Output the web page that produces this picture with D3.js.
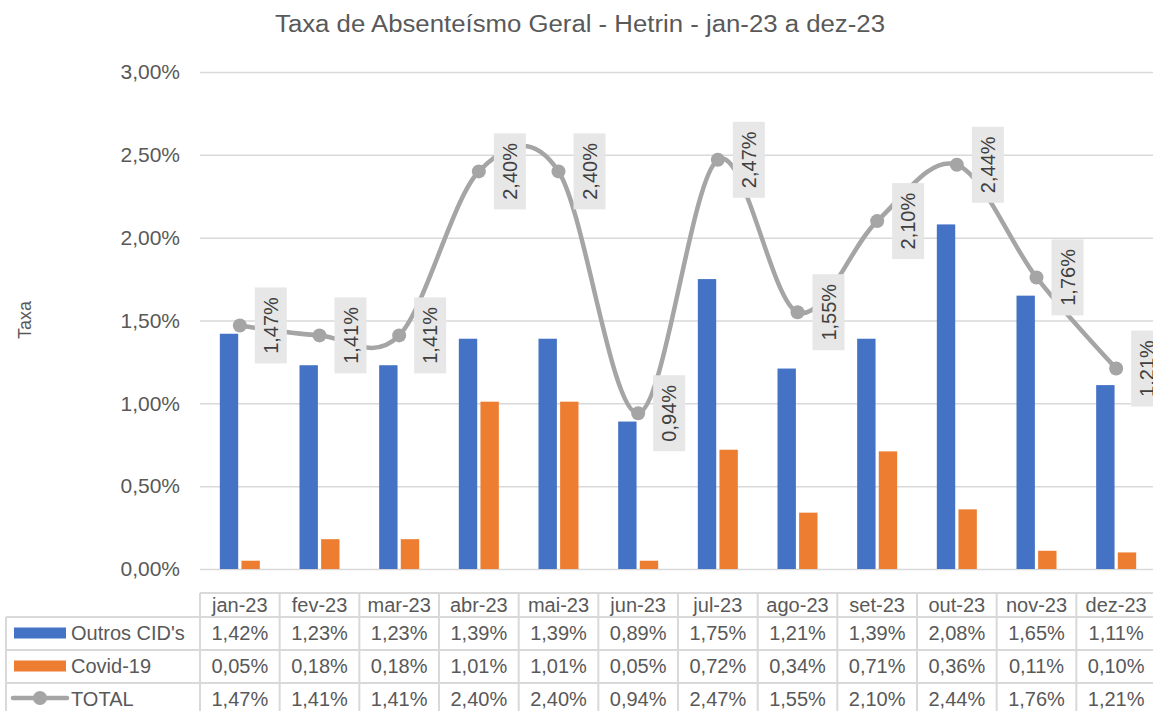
<!DOCTYPE html>
<html><head><meta charset="utf-8">
<script src="https://cdn.jsdelivr.net/npm/d3@7"></script>
<style>
body{margin:0;background:#fff;}
svg{display:block;font-family:"Liberation Sans",Arial,sans-serif;}
</style></head><body>
<svg id="c" width="1153" height="711"></svg>
<script>
const months = ["jan-23","fev-23","mar-23","abr-23","mai-23","jun-23","jul-23","ago-23","set-23","out-23","nov-23","dez-23"];
const outros = [1.42,1.23,1.23,1.39,1.39,0.89,1.75,1.21,1.39,2.08,1.65,1.11];
const covid  = [0.05,0.18,0.18,1.01,1.01,0.05,0.72,0.34,0.71,0.36,0.11,0.10];
const total  = [1.47,1.41,1.41,2.40,2.40,0.94,2.47,1.55,2.10,2.44,1.76,1.21];
const yTicks = [0,0.5,1,1.5,2,2.5,3];
const seriesNames = ["Outros CID's","Covid-19","TOTAL"];
const colors = ["#4472C4","#ED7D31","#A5A5A5"];
const title = "Taxa de Absenteísmo Geral - Hetrin - jan-23 a dez-23";
const yLabel = "Taxa";

const fmt = v => v.toFixed(2).replace(".", ",") + "%";
const svg = d3.select("#c");

const x = d3.scaleBand().domain(months).range([200, 1156]).padding(0);
const y = d3.scaleLinear().domain([0, 3]).range([569, 72]);
const xi = d3.scaleBand().domain(["o","c"]).range([-20, 20]).paddingInner(0.15);

// title
svg.append("text").attr("x", 580).attr("y", 32).attr("text-anchor","middle")
  .attr("font-size", 23).attr("fill", "#595959")
  .attr("textLength", 610).attr("lengthAdjust","spacingAndGlyphs").text(title);
// y label
svg.append("text").attr("transform","translate(31,320) rotate(-90)").attr("text-anchor","middle")
  .attr("font-size", 18).attr("fill","#595959").text(yLabel);

// grid + tick labels
const yAxis = d3.axisLeft(y).tickValues(yTicks).tickFormat(fmt).tickSize(-(1156-200)).tickPadding(20);
const ga = svg.append("g").attr("transform","translate(200,0)").call(yAxis);
ga.select(".domain").remove();
ga.selectAll(".tick line").attr("stroke","#D9D9D9").attr("stroke-width",1.5);
ga.selectAll(".tick text").attr("font-size",21).attr("fill","#595959")
  .attr("font-family","Liberation Sans, Arial, sans-serif");

// bars
const g = svg.append("g");
g.selectAll(".bo").data(months).join("rect")
  .attr("x", (d,i)=> x(d) + x.bandwidth()/2 + xi("o"))
  .attr("width", xi.bandwidth())
  .attr("y", (d,i)=> y(outros[i]))
  .attr("height", (d,i)=> y(0) - y(outros[i]))
  .attr("fill", colors[0]);
g.selectAll(".bc").data(months).join("rect")
  .attr("x", (d,i)=> x(d) + x.bandwidth()/2 + xi("c"))
  .attr("width", xi.bandwidth())
  .attr("y", (d,i)=> y(covid[i]))
  .attr("height", (d,i)=> y(0) - y(covid[i]))
  .attr("fill", colors[1]);

// line
const pts = months.map((m,i)=>[x(m)+x.bandwidth()/2, y(total[i])]);
svg.append("path").attr("d", d3.line().curve(d3.curveCardinal.tension(0))(pts))
  .attr("fill","none").attr("stroke",colors[2]).attr("stroke-width",4.5).attr("stroke-linecap","round");
svg.selectAll(".mk").data(pts).join("circle")
  .attr("cx", d=>d[0]).attr("cy", d=>d[1]).attr("r", 7).attr("fill", colors[2]);

// data labels
const lbl = svg.append("g");
pts.forEach((p,i)=>{
  const cx = p[0] + 15 + 16, cy = p[1];
  const gg = lbl.append("g").attr("transform", `translate(${cx},${cy}) rotate(-90)`);
  gg.append("rect").attr("x",-38).attr("y",-16).attr("width",76).attr("height",32).attr("fill","#E7E7E7");
  gg.append("text").attr("x",0).attr("y",7).attr("text-anchor","middle")
    .attr("font-size",20).attr("fill","#404040").text(fmt(total[i]));
});

// data table
const rowY = [593, 617, 650, 683, 716];
const tbl = svg.append("g");
const lineC = "#D9D9D9";
tbl.append("line").attr("x1",200).attr("x2",1156).attr("y1",rowY[0]).attr("y2",rowY[0]).attr("stroke",lineC).attr("stroke-width",2);
[1,2,3].forEach(r=>{
  tbl.append("line").attr("x1",6).attr("x2",1156).attr("y1",rowY[r]).attr("y2",rowY[r]).attr("stroke",lineC).attr("stroke-width",2);
});
tbl.append("line").attr("x1",6).attr("x2",6).attr("y1",rowY[1]).attr("y2",711).attr("stroke",lineC).attr("stroke-width",2);
months.forEach(m=>{
  tbl.append("line").attr("x1",x(m)).attr("x2",x(m)).attr("y1",rowY[0]).attr("y2",711).attr("stroke",lineC).attr("stroke-width",2);
});
months.forEach(m=>{
  tbl.append("text").attr("x", x(m)+x.bandwidth()/2).attr("y", rowY[0]+19).attr("text-anchor","middle")
    .attr("font-size",20).attr("fill","#595959").text(m);
});
const rows = [outros, covid, total];
rows.forEach((arr,r)=>{
  const yb = rowY[r+1] + 23;
  months.forEach((m,i)=>{
    tbl.append("text").attr("x", x(m)+x.bandwidth()/2).attr("y", yb).attr("text-anchor","middle")
      .attr("font-size",20).attr("fill","#595959").text(fmt(arr[i]));
  });
  const ky = rowY[r+1] + 16;
  if (r < 2) {
    tbl.append("rect").attr("x",14).attr("y",ky-5.5).attr("width",52).attr("height",11).attr("fill",colors[r]);
  } else {
    tbl.append("line").attr("x1",13).attr("x2",67).attr("y1",ky-1).attr("y2",ky-1).attr("stroke",colors[2]).attr("stroke-width",4.5).attr("stroke-linecap","round");
    tbl.append("circle").attr("cx",40).attr("cy",ky-1).attr("r",7).attr("fill",colors[2]);
  }
  tbl.append("text").attr("x",71).attr("y",yb).attr("font-size",20).attr("fill","#595959").text(seriesNames[r]);
});
</script>
</body></html>
